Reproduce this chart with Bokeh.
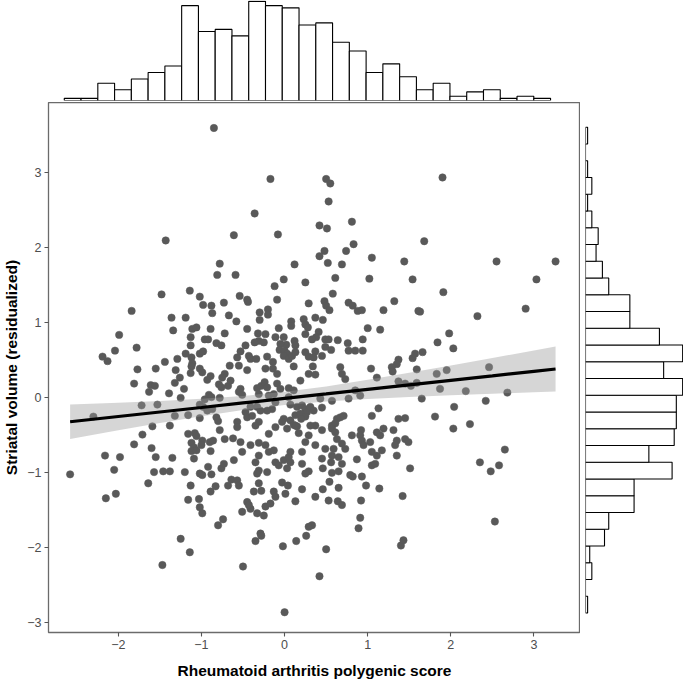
import numpy as np
from bokeh.plotting import figure
from bokeh.layouts import column, row
from bokeh.models import Range1d, FixedTicker
from bokeh.embed import file_html
from bokeh.resources import INLINE

# ---------------- data ----------------
score_upper = [-0.85, -1.43, -0.78, -0.81, -0.61, -0.59, -0.17, 0.50, 0.55, 0.53,
               -0.36, -0.08, 0.42, 0.51, 0.81, 0.83, 0.74, 0.48, 0.42, 0.52,
               0.69, 1.05, 1.44, 0.12, -0.01, 0.25, 0.61, 1.02, 1.90, 1.68,
               2.55, 3.26, 1.54, 3.03]
volume_upper = [3.60, 2.10, 1.79, 1.64, 2.17, 1.64, 2.92, 2.92, 2.86, 2.62,
                2.46, 2.18, 2.30, 2.26, 2.35, 2.05, 1.96, 1.96, 1.89, 1.80,
                1.78, 1.87, 1.82, 1.78, 1.58, 1.54, 1.60, 1.59, 2.94, 2.09,
                1.82, 1.82, 1.58, 1.58]

score_left = [-1.48, -1.14, -1.02, -0.98, -0.88, -0.73, -0.87, -0.67, -1.84, -1.36,
              -1.19, -1.34, -1.11, -1.06, -0.89, -0.72, -1.99, -1.13, -0.96, -0.92,
              -1.13, -0.82, -0.76, -1.78, -2.04, -2.19, -2.13, -1.19, -1.12, -1.02,
              -0.98, -1.29, -1.44, -1.11, -1.12, -1.02, -0.99, -0.66, -0.72, -0.75,
              -1.77, -1.55, -1.31, -1.13, -1.26, -0.89, -0.93, -1.81, -1.61, -1.56,
              -1.63, -1.32, -1.21, -1.39, -1.25, -0.79, -0.76, -0.68, -0.65, -0.91,
              -0.88, -0.78, -0.96, -1.02, -0.98, -0.93, -0.87, -1.72, -1.53, -2.30,
              -1.32, -1.16, -1.02, -0.82, -0.80, -1.59, -1.38, -0.78, -1.71, -1.16,
              -1.08, -1.06, -0.72, -0.99, -0.90, -0.86, -1.81, -1.60, -1.12, -1.09,
              -1.12, -1.06, -1.00, -0.89, -2.16, -1.98, -1.55, -1.35, -1.09]
volume_left = [1.38, 1.43, 1.35, 1.24, 1.23, 1.27, 1.13, 1.10, 1.16, 1.07,
               1.07, 0.90, 0.92, 0.94, 0.92, 0.86, 0.84, 0.81, 0.78, 0.78,
               0.70, 0.73, 0.70, 0.67, 0.63, 0.55, 0.49, 0.59, 0.54, 0.59,
               0.62, 0.52, 0.48, 0.46, 0.42, 0.39, 0.34, 0.43, 0.32, 0.27,
               0.38, 0.39, 0.37, 0.33, 0.27, 0.29, 0.24, 0.19, 0.17, 0.16,
               0.08, 0.20, 0.12, 0.06, 0.00, 0.18, 0.14, 0.16, 0.23, 0.04,
               0.01, 0.00, -0.02, -0.09, -0.12, -0.17, -0.15, -0.10, -0.09, -0.25,
               -0.24, -0.23, -0.27, -0.26, -0.31, -0.38, -0.37, -0.43, -0.49, -0.48,
               -0.47, -0.51, -0.55, -0.57, -0.59, -0.57, -0.62, -0.67, -0.60, -0.66,
               -0.71, -0.70, -0.63, -0.71, -0.77, -0.79, -0.79, -0.80, -0.81]

score_lowleft = [-2.58, -2.05, -2.15, -2.03, -1.64, -1.57, -1.46, -1.38, -1.20, -1.13,
                 -1.16, -1.03, -1.02, -0.99, -1.02, -0.99, -0.88, -0.92, -0.76, -0.73,
                 -0.89, -0.83, -0.68, -0.64, -0.80, -0.74, -1.25, -1.14, -1.47]
volume_lowleft = [-1.02, -0.96, -1.34, -1.28, -1.14, -0.99, -0.98, -0.98, -0.99, -1.17,
                  -1.36, -1.35, -1.46, -1.54, -1.01, -1.03, -1.02, -0.92, -0.94, -0.88,
                  -1.25, -1.18, -1.17, -1.09, -1.70, -1.62, -1.88, -2.06, -2.23]

score_low = [-0.61, -0.35, -0.31, -0.33, -0.21, -0.11, -0.07, -0.01, 0.03, 0.07,
             0.21, 0.29, 0.25, 0.46, 0.56, 0.57, 0.65, 0.69, 0.79, 0.82,
             0.87, 0.93, 1.05, 1.09, 1.51, -0.57, -0.55, -0.31, -0.37, -0.28,
             -0.13, -0.11, 0.01, -0.03, 0.04, 0.21, 0.13, 0.37, 0.46, 0.54,
             0.65, 0.53, 0.64, 0.69, 0.98, 1.14, 0.92, 1.42, -0.45, -0.41,
             -0.51, -0.43, -0.33, -0.25, -0.23, -0.17, 0.91, 0.89, 0.33, 0.29,
             0.26, 0.14, -0.02, -0.29, -0.28, -0.35, 0.50, 1.40, 1.43, -0.50,
             0.42, 0.00, 2.35, 2.48, 2.58, 2.53]
volume_low = [-0.83, -0.86, -0.97, -1.01, -0.99, -0.86, -0.90, -0.83, -0.94, -0.86,
              -0.88, -0.98, -1.01, -0.94, -0.86, -1.00, -0.98, -0.88, -1.03, -1.05,
              -0.82, -1.05, -0.90, -0.88, -0.94, -1.10, -1.17, -1.14, -1.25, -1.24,
              -1.25, -1.32, -1.28, -1.13, -1.17, -1.22, -1.38, -1.32, -1.22, -1.12,
              -1.20, -1.37, -1.38, -1.43, -1.17, -1.21, -1.37, -1.31, -1.39, -1.48,
              -1.52, -1.43, -1.54, -1.57, -1.45, -1.41, -1.60, -1.74, -1.70, -1.72,
              -1.84, -1.91, -1.98, -1.81, -1.84, -1.91, -2.02, -1.97, -1.90, -2.25,
              -2.38, -2.86, -0.86, -0.98, -0.90, -1.65]

score_right = [1.91, 1.61, 1.63, 2.32, 2.90, 1.98, 1.84, 2.03, 1.54, 1.57,
               1.66, 1.59, 1.83, 1.95, 2.46, 1.52, 1.59, 1.87, 2.18, 2.68,
               1.65, 2.42, 2.04, 1.81, 2.03, 2.23, 2.65, 1.45, 1.45, 1.45]
volume_right = [1.41, 1.16, 1.15, 1.09, 1.19, 0.86, 0.74, 0.66, 0.53, 0.59,
                0.61, 0.38, 0.32, 0.37, 0.41, 0.16, 0.20, 0.12, 0.09, 0.07,
                -0.01, -0.04, -0.12, -0.25, -0.41, -0.35, -0.69, 0.19, -0.27, -0.55]

score_mid = [-0.12, -0.54, -0.45, -0.44, -0.09, 0.29, 0.48, 0.50, 0.54, 0.58,
             0.77, 0.82, 0.88, 0.93, 1.19, 1.32, -0.30, -0.20, -0.20, -0.30,
             -0.58, 0.08, 0.08, 0.23, 0.25, 0.37, 0.46, 0.28, -0.45, -0.32,
             -0.23, -0.31, -0.36, -0.25, -0.07, -0.11, -0.01, 0.02, 0.12, 0.13,
             -0.05, -0.06, 0.00, 0.03, -0.01, 0.05, 0.09, 0.13, 0.25, 0.41,
             0.38, 0.33, 0.49, 0.53, 0.49, 0.56, 0.64, 0.76, 0.77, 0.85,
             0.94, 0.94, 1.00, 1.15, 0.25, 0.29, 0.37, 0.35, 0.45, 0.34,
             0.29, 0.37, 0.67, 0.69, 0.73, -0.57, -0.53, -0.47, -0.43, -0.41,
             -0.34, -0.21, -0.14, -0.55, -0.45, -0.23, -0.14, -0.09, 0.19, 0.11,
             1.37, 1.35, 1.29, 1.30, 1.04, 1.11, 1.37, -0.53, -0.55, -0.51,
             -0.33, -0.28, -0.24, -0.21, -0.31, -0.19, -0.13, -0.09, -0.05, 0.05,
             0.11, -0.11, -0.15, -0.21, -0.41, -0.33, -0.47, -0.45, -0.39, -0.29,
             0.05, 0.07, 0.15, 0.21, 0.25, 0.27, 0.31, 0.35, 0.43, 0.45,
             0.13, 0.19, 0.25, 0.20, 0.07, -0.01, -0.03, 0.11, 0.15, 0.37,
             0.57, 0.77, 0.85, 0.91, 1.13, 1.05, -0.57, -0.57, -0.31, -0.35,
             -0.19, -0.11, -0.62, -0.53, -0.51, -0.41, -0.31, -0.23, -0.31, -0.19,
             -0.13, 0.03, 0.13, 0.17, 0.29, 0.31, 0.45, 0.57, 0.63, 0.67,
             0.71, 0.61, 0.57, 0.61, 0.63, 0.69, 0.73, 0.59, 0.65, 0.81,
             0.92, 0.91, 0.93, 0.95, 1.03, 1.11, 1.19, 1.15, 1.35, 1.31,
             1.37, 1.33, 0.05, 0.07, 0.21, 0.25, 0.37, 0.49, 0.45, 0.57,
             1.05, 1.11, 1.17, 1.35, 1.49]
volume_mid = [1.49, 1.36, 1.31, 1.28, 1.31, 1.26, 1.29, 1.23, 1.17, 1.39,
              1.27, 1.23, 1.16, 1.17, 1.17, 1.29, 1.14, 1.18, 1.11, 1.04,
              1.02, 1.02, 0.96, 1.05, 0.98, 1.07, 1.04, 0.94, 0.92, 0.86,
              0.85, 0.76, 0.74, 0.74, 0.93, 0.81, 0.81, 0.71, 0.76, 0.70,
              0.72, 0.64, 0.63, 0.59, 0.56, 0.52, 0.56, 0.61, 0.85, 0.88,
              0.81, 0.78, 0.78, 0.78, 0.68, 0.64, 0.77, 0.73, 0.63, 0.63,
              0.63, 0.78, 0.93, 0.91, 0.61, 0.55, 0.62, 0.54, 0.56, 0.42,
              0.32, 0.31, 0.41, 0.32, 0.25, 0.54, 0.62, 0.70, 0.56, 0.52,
              0.52, 0.55, 0.48, 0.43, 0.37, 0.39, 0.39, 0.32, 0.23, 0.42,
              0.51, 0.45, 0.41, 0.35, 0.39, 0.27, 0.22, 0.12, 0.08, 0.04,
              0.13, 0.16, 0.21, 0.14, 0.05, 0.03, 0.05, 0.19, 0.12, 0.13,
              0.10, -0.06, -0.15, -0.17, -0.12, -0.12, -0.19, -0.26, -0.24, -0.17,
              0.01, -0.09, -0.12, -0.10, -0.15, -0.19, -0.12, -0.17, -0.01, -0.13,
              -0.23, -0.21, -0.25, -0.28, -0.30, -0.28, -0.32, -0.36, -0.38, -0.37,
              -0.04, -0.01, 0.10, 0.03, -0.14, -0.24, -0.32, -0.39, -0.32, -0.37,
              -0.48, -0.39, -0.54, -0.59, -0.72, -0.63, -0.60, -0.63, -0.77, -0.72,
              -0.70, -0.41, -0.37, -0.47, -0.50, -0.37, -0.43, -0.37, -0.28, -0.26,
              -0.24, -0.34, -0.41, -0.46, -0.55, -0.61, -0.68, -0.68, -0.79, -0.50,
              -0.43, -0.50, -0.57, -0.63, -0.59, -0.46, -0.41, -0.50, -0.57, -0.43,
              -0.28, -0.63, -0.79, -0.72, -0.72, -0.59, -0.63, -0.68, -0.81, -0.77,
              -0.72, -0.77, -0.70, -0.77, -0.59]

# fitted regression line and its 95% band
fit_x = [-2.58, -2.0, -1.5, -1.0, -0.5, 0.0, 0.5, 1.0, 1.5, 2.0, 2.5, 3.0, 3.26]
fit_y = [-0.319, -0.249, -0.189, -0.129, -0.068, -0.008, 0.052, 0.113, 0.173, 0.233, 0.293, 0.354, 0.385]
ci_low = [-0.548, -0.433, -0.337, -0.246, -0.162, -0.096, -0.049, -0.015, 0.011, 0.034, 0.055, 0.076, 0.086]
ci_high = [-0.090, -0.065, -0.041, -0.012, 0.026, 0.080, 0.153, 0.241, 0.335, 0.432, 0.531, 0.632, 0.684]

# marginal histograms (counts per bin)
score_counts = [1, 1, 8, 5, 10, 13, 16, 44, 32, 33, 30, 46, 44, 43, 35, 36, 27, 23, 13, 17,
                11, 5, 8, 2, 4, 5, 1, 2, 1]
score_bin_lo, score_bin_hi = -2.59, 3.26
volume_counts = [1, 0, 3, 2, 9, 11, 23, 23, 41, 30, 42, 43, 43, 46, 37, 46, 35, 21, 21, 11,
                 8, 5, 6, 3, 1, 3, 1, 0, 1]
volume_bin_lo, volume_bin_hi = -2.87, 3.61

x_ticks = [-2, -1, 0, 1, 2, 3]
y_ticks = [-3, -2, -1, 0, 1, 2, 3]
x_title = "Rheumatoid arthritis polygenic score"
y_title = "Striatal volume (residualized)"

# ---------------- assemble ----------------
groups = [(score_upper, volume_upper), (score_left, volume_left), (score_lowleft, volume_lowleft),
          (score_low, volume_low), (score_right, volume_right), (score_mid, volume_mid)]
score, volume = [], []
for gx, gy in groups:
    assert len(gx) == len(gy)
    score += gx
    volume += gy

FONT = "Liberation Sans"
FW, FH = 532, 530
LB, BB = 43, 47
TOP_H = 100
TOP_PAD = 2
RW = 98

x_range = Range1d(-2.84, 3.56)
y_range = Range1d(-3.13, 3.94)

p = figure(frame_width=FW, frame_height=FH, x_range=x_range, y_range=y_range,
           output_backend="svg", toolbar_location=None,
           min_border_left=LB, min_border_right=0, min_border_top=0, min_border_bottom=BB,
           background_fill_color="white", border_fill_color="white")
p.grid.visible = False
p.outline_line_color = "#6b6b6b"
p.outline_line_width = 1.3

p.scatter(score, volume, size=7.4, fill_color="#595959", line_color="#595959", line_width=0.5)
p.varea(x=fit_x, y1=ci_low, y2=ci_high, fill_color="#999999", fill_alpha=0.4)
p.line(fit_x, fit_y, line_color="black", line_width=3.2)

p.xaxis.ticker = FixedTicker(ticks=x_ticks, minor_ticks=[])
p.yaxis.ticker = FixedTicker(ticks=y_ticks, minor_ticks=[])
for ax in (p.xaxis[0], p.yaxis[0]):
    ax.axis_line_color = None
    ax.major_tick_line_color = "#555555"
    ax.major_tick_line_width = 1.1
    ax.major_tick_in = 0
    ax.major_tick_out = 4
    ax.minor_tick_line_color = None
    ax.major_label_text_font = FONT
    ax.major_label_text_font_size = "12.5px"
    ax.major_label_text_color = "#4d4d4d"
    ax.major_label_standoff = 3
    ax.axis_label_text_font = FONT
    ax.axis_label_text_font_style = "bold"
    ax.axis_label_text_font_size = "15.5px"
    ax.axis_label_text_color = "black"
p.xaxis.axis_label = x_title
p.yaxis.axis_label = y_title
p.xaxis.axis_label_standoff = 10
p.yaxis.axis_label_standoff = 4

# top histogram
xe = np.linspace(score_bin_lo, score_bin_hi, len(score_counts) + 1)
ph = figure(frame_width=FW, frame_height=TOP_H, x_range=x_range, y_range=Range1d(0, 46.4),
            x_axis_type=None, y_axis_type=None, output_backend="svg", toolbar_location=None,
            min_border_left=LB, min_border_right=0, min_border_top=0, min_border_bottom=TOP_PAD,
            background_fill_color="white", border_fill_color="white")
ph.grid.visible = False
ph.outline_line_color = None
ph.quad(left=xe[:-1], right=xe[1:], bottom=0, top=score_counts,
        fill_color="white", line_color="black", line_width=1.1)

# right histogram
ye = np.linspace(volume_bin_lo, volume_bin_hi, len(volume_counts) + 1)
pr = figure(frame_width=RW, frame_height=FH, x_range=Range1d(0, 46.4), y_range=y_range,
            x_axis_type=None, y_axis_type=None, output_backend="svg", toolbar_location=None,
            min_border_left=5, min_border_right=0, min_border_top=0, min_border_bottom=BB,
            background_fill_color="white", border_fill_color="white")
pr.grid.visible = False
pr.outline_line_color = None
pr.quad(left=0, right=volume_counts, bottom=ye[:-1], top=ye[1:],
        fill_color="white", line_color="black", line_width=1.1)

layout = column(ph, row(p, pr, spacing=0), spacing=0)
open("out.html", "w").write(file_html(layout, INLINE))
